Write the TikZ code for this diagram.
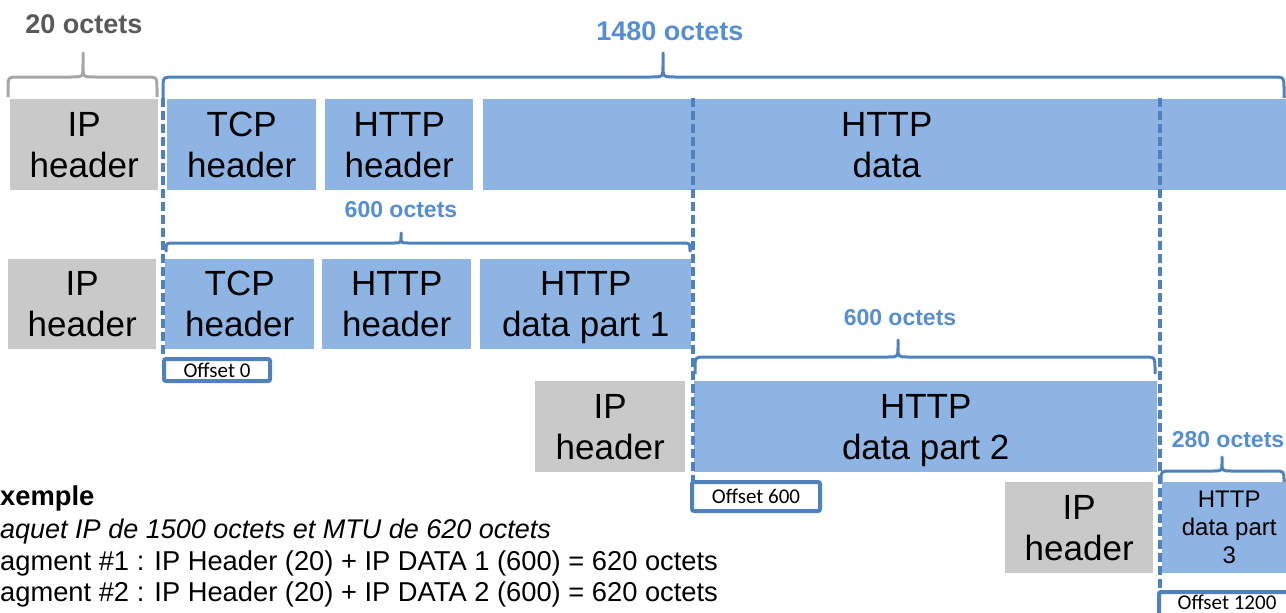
\documentclass[tikz,border=0pt]{standalone}
\usepackage{fontspec}
\setmainfont{Liberation Sans}
\newfontfamily\offsetfont{Carlito}
\definecolor{boxblue}{RGB}{142,180,227}
\definecolor{boxgray}{RGB}{201,201,201}
\definecolor{lineblue}{RGB}{79,129,189}
\definecolor{lblblue}{RGB}{85,142,213}
\definecolor{lblgray}{RGB}{89,89,89}
\definecolor{bracegray}{RGB}{166,166,166}
\newcommand{\nodepth}[1]{\raisebox{0pt}[\height][0pt]{#1}}
% style, x1, x2, xm, yl, yb, yt, r, rt
\newcommand{\Brace}[9]{%
 \draw[#1] (#2,#6) -- (#2,{#5+#8}) .. controls (#2,#5) .. ({#2+#8},#5)
   -- ({#4-#9},#5) .. controls (#4,#5) .. (#4,{#5-#9}) -- (#4,#7)
   -- (#4,{#5-#9}) .. controls (#4,#5) .. ({#4+#9},#5)
   -- ({#3-#8},#5) .. controls (#3,#5) .. (#3,{#5+#8}) -- (#3,#6);}
\tikzset{
  pkt/.style={rectangle, inner sep=0pt, anchor=north west, align=center,
    font=\fontsize{35}{41}\selectfont, text=black},
  bluepkt/.style={pkt, fill=boxblue},
  graypkt/.style={pkt, fill=boxgray},
  smallpkt/.style={bluepkt, font=\fontsize{24}{28}\selectfont},
  offbox/.style={rectangle, draw=lineblue, line width=4pt, fill=white,
    rounded corners=2pt, inner sep=0pt, font=\offsetfont\fontsize{21}{24}\selectfont},
  offtext/.style={inner sep=0pt, font=\offsetfont\fontsize{21}{24}\selectfont},
  sizelbl/.style={font=\bfseries\fontsize{27}{30}\selectfont, text=lblblue, inner sep=0pt},
  sizelblsmall/.style={sizelbl, font=\bfseries\fontsize{23}{26}\selectfont},
  bracestyle/.style={draw=lineblue, line width=3pt, line join=round},
  guide/.style={draw=lineblue, line width=3.4pt, dash pattern=on 9pt off 4pt},
  bottomtxt/.style={anchor=base west, inner sep=0pt, font=\fontsize{27.3}{32}\selectfont}
}
\begin{document}
\begin{tikzpicture}[x=1pt,y=-1pt]
\useasboundingbox (0,0) rectangle (1286,613);
\clip (0,0) rectangle (1286,613);
% row 1
\node[graypkt, minimum width=148pt, minimum height=91pt] (ip1) at (10,99) {IP\\header};
\node[bluepkt, minimum width=149pt, minimum height=91pt] (tcp1) at (167,99) {TCP\\header};
\node[bluepkt, minimum width=148pt, minimum height=91pt] (hh1) at (325,99) {HTTP\\header};
\node[bluepkt, minimum width=807pt, minimum height=91pt] (hd1) at (483,99) {HTTP\\data};
% row 2
\node[graypkt, minimum width=148pt, minimum height=90pt] (ip2) at (8,259) {IP\\header};
\node[bluepkt, minimum width=149pt, minimum height=90pt] (tcp2) at (165,259) {TCP\\header};
\node[bluepkt, minimum width=149pt, minimum height=90pt] (hh2) at (322,259) {HTTP\\header};
\node[bluepkt, minimum width=211pt, minimum height=90pt] (hd2) at (480,259) {HTTP\\\nodepth{data part 1}};
% row 3
\node[graypkt, minimum width=150pt, minimum height=91pt] (ip3) at (535,381) {IP\\header};
\node[bluepkt, minimum width=463pt, minimum height=91pt] (hd3) at (694,381) {HTTP\\\nodepth{data part 2}};
% row 4
\node[graypkt, minimum width=148pt, minimum height=91pt] (ip4) at (1005,482) {IP\\header};
\node[smallpkt, minimum width=134pt, minimum height=91pt] (hd4) at (1162,482) {HTTP\\data part\\3};
% guide lines
\coordinate (g1t) at (163,98); \coordinate (g1b) at (163,358);
\coordinate (g2t) at (693,98); \coordinate (g2b) at (693,481);
\coordinate (g3t) at (1160,98); \coordinate (g3b) at (1160,591);
\draw[guide] (g1t) -- (g1b);
\draw[guide] (g2t) -- (g2b);
\draw[guide] (g3t) -- (g3b);
% braces
\Brace{bracestyle, draw=bracegray}{8}{157}{83}{77}{97}{53}{12}{12}
\Brace{bracestyle}{163}{1284}{663}{77}{98}{53}{12}{12}
\Brace{bracestyle}{166}{690}{401}{243}{252}{233}{8}{7}
\Brace{bracestyle}{695}{1155}{898}{357}{374}{340}{12}{10}
\Brace{bracestyle}{1161}{1284}{1222}{471}{482}{457}{10}{9}
% size labels
\node[sizelbl, text=lblgray] (l20) at (84,24) {20 octets};
\node[sizelbl] (l1480) at (670,31) {1480 octets};
\node[sizelblsmall] (l600a) at (401,209.5) {600 octets};
\node[sizelblsmall] (l600b) at (900,317.5) {600 octets};
\node[sizelblsmall] (l280) at (1228,440) {280 octets};
% offsets
\node[offbox, minimum width=106pt, minimum height=22pt] (off0) at (217,370) {Offset 0};
\node[offbox, minimum width=128pt, minimum height=29pt] (off600) at (756,496.5) {Offset 600};
\coordinate (o12a) at (1159,592); \coordinate (o12b) at (1296,622);
\draw[draw=lineblue, line width=4pt, fill=white, rounded corners=2pt] (o12a) rectangle (o12b);
\node[offtext] (off1200) at (1227,602.5) {Offset 1200};
% bottom text
\node[bottomtxt, font=\bfseries\fontsize{27.3}{32}\selectfont] (ex) at (0,505) {xemple};
\node[bottomtxt, font=\itshape\fontsize{27}{32}\selectfont] (pq) at (0,538) {aquet IP de 1500 octets et MTU de 620 octets};
\node[bottomtxt] (f1) at (0,570) {agment \#1 : IP Header (20) + IP DATA 1 (600) = 620 octets};
\node[bottomtxt] (f2) at (0,601) {agment \#2 : IP Header (20) + IP DATA 2 (600) = 620 octets};
\end{tikzpicture}
\end{document}
